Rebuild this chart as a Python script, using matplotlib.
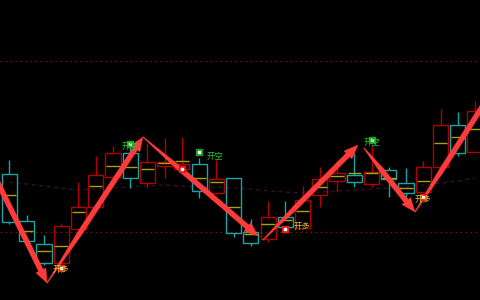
import numpy as np
import matplotlib
matplotlib.use("Agg")
import matplotlib.pyplot as plt
from matplotlib.patches import Rectangle, Polygon
from matplotlib.transforms import IdentityTransform

plt.rcParams['font.family'] = ['Noto Sans CJK SC', 'DejaVu Sans']

# ---- data (price units) ----
opens  = [126, 79, 56, 37, 71, 93, 123, 147, 117, 134, 131, 136, 107, 122, 68, 61, 83, 72, 105, 119, 125, 116, 130, 117, 108, 133, 175, 148]
closes = [78, 59, 37, 74, 93, 125, 147, 122, 138, 138, 136, 109, 121, 67, 57, 83, 73, 100, 121, 127, 118, 128, 121, 107, 133, 175, 147, 189]
highs  = [140, 85, 65, 77, 118, 144, 154, 153, 157, 162, 163, 142, 140, 122, 81, 99, 99, 114, 133, 140, 147, 155, 133, 132, 139, 191, 188, 199]
lows   = [76, 59, 35, 37, 71, 93, 123, 112, 112, 122, 127, 102, 107, 63, 54, 58, 67, 72, 93, 108, 113, 113, 103, 100, 108, 133, 144, 148]
mids   = [105, 69, 49, 54, 88, 114, 134, 133, 131, 137, 139, 122, 118, 93, 66, 76, 80, 89, 113, 124, 127, 127, 122, 112, 119, 157, 163, 171]
ma     = [118, 116, 114, 112, 110, 111, 112, 113, 114, 115, 114, 113, 113, 112, 111, 109, 108, 107, 108, 109, 110, 111, 112, 113, 115, 117, 119, 122]
levels = [239, 68]

# zigzag arrows: (start_x, start_y, end_x, end_y)
arrow_x0 = [-3.0, 2.18, 7.74, 14.70, 20.56, 23.52]
arrow_y0 = [199, 17, 163, 60, 152, 88]
arrow_x1 = [2.18, 7.74, 14.41, 20.21, 23.52, 28.0]
arrow_y1 = [17, 163, 64, 155, 88, 209]

# signals
buy_x = [3, 10, 16, 24]
buy_y = [32, 131, 71, 103]
sell_x = [7, 11, 21]
sell_y = [156, 148, 160]
buy_lbl_x = [3.0, 16.95, 24.0]
buy_lbl_y = [31, 74, 101]
sell_lbl_x = [7.0, 11.9, 21.0]
sell_lbl_y = [154, 144, 158]
buy_text = "开多"
sell_text = "开空"

UP = "#b00000"
DN = "#1aa5a5"
YEL = "#a8a400"
ARR = "#ff3b3b"

fig = plt.figure(figsize=(4.8, 3.0), dpi=100, facecolor="black")
ax = fig.add_axes([0, 0, 1, 1])
ax.set_facecolor("black")
ax.set_xlim(-0.551, 27.29)
ax.set_ylim(0, 300)
ax.axis("off")

for lv in levels:
    ax.axhline(lv, color="#6a1414", lw=0.9, ls=(0, (1.5, 2.5)), zorder=1)

x = np.arange(len(opens))
ax.plot(x, ma, color="#3c0f38", lw=0.9, ls=(0, (3, 3)), zorder=1)

w = 0.88
for i in range(len(opens)):
    o, c, h, l, m = opens[i], closes[i], highs[i], lows[i], mids[i]
    col = UP if c >= o else DN
    top, bot = max(o, c), min(o, c)
    ax.vlines(i, top, h, color=col, lw=1.0, zorder=2)
    ax.vlines(i, l, bot, color=col, lw=1.0, zorder=2)
    ax.add_patch(Rectangle((i - w / 2, bot), w, max(top - bot, 0.5), fill=False,
                           edgecolor=col, lw=1.0, zorder=3))
    ax.hlines(m, i - w / 2 + 0.05, i + w / 2 - 0.05, color=YEL, lw=1.0, zorder=3)

fig.canvas.draw()


def arrow_poly(p0, p1, wmax=5.0, head_len=14, head_w=11, taper=0.35):
    p0 = np.asarray(p0, float)
    p1 = np.asarray(p1, float)
    d = p1 - p0
    L = np.hypot(*d)
    u = d / L
    n = np.array([-u[1], u[0]])
    se = L - head_len
    ss = [0, taper * L, se]
    ws = [0.6, wmax, wmax]
    left = [p0 + u * s + n * ww / 2 for s, ww in zip(ss, ws)]
    right = [p0 + u * s - n * ww / 2 for s, ww in zip(ss, ws)]
    head = [p0 + u * se + n * head_w / 2, p1, p0 + u * se - n * head_w / 2]
    return np.array(left + head + right[::-1])


for a in range(len(arrow_x0)):
    p0 = ax.transData.transform((arrow_x0[a], arrow_y0[a]))
    p1 = ax.transData.transform((arrow_x1[a], arrow_y1[a]))
    ax.add_patch(Polygon(arrow_poly(p0, p1), closed=True, facecolor=ARR,
                         edgecolor=ARR, lw=0.3, transform=IdentityTransform(), zorder=5))

ax.scatter(buy_x, buy_y, marker="s", s=14, color="#e81818", zorder=6)
ax.scatter(buy_x, buy_y, marker="s", s=2, color="white", zorder=7)
ax.scatter(sell_x, sell_y, marker="s", s=14, color="#1f9a2a", zorder=6)
ax.scatter(sell_x, sell_y, marker="s", s=2, color="white", zorder=7)

for bx, by in zip(buy_lbl_x, buy_lbl_y):
    ax.text(bx, by, buy_text, color="#d4c428", fontsize=6, ha="center", va="center", zorder=8)
for sx, sy in zip(sell_lbl_x, sell_lbl_y):
    ax.text(sx, sy, sell_text, color="#22c02a", fontsize=6, ha="center", va="center", zorder=8)

fig.savefig("out.png", dpi=100, facecolor="black")
